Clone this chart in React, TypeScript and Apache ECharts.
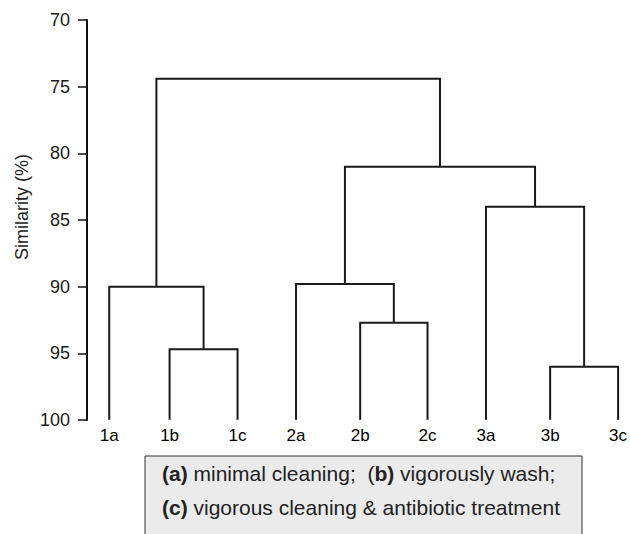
import React, { useEffect, useRef } from "react";
import * as echarts from "echarts";

// Leaves of the dendrogram (left to right) and their positions along the (hidden) x axis
const leafNames = ["1a", "1b", "1c", "2a", "2b", "2c", "3a", "3b", "3c"];
const leafPositions = [0.35, 1.3, 2.37, 3.29, 4.3, 5.36, 6.28, 7.29, 8.36];
const leafSimilarity = 100;

// Merges: node ids 0..8 are leaves, each merge creates node 9 + index
const mergeLeft = [1, 0, 4, 3, 7, 6, 12, 10];
const mergeRight = [2, 9, 5, 11, 8, 13, 14, 15];
const mergeSimilarity = [94.7, 90.0, 92.7, 89.8, 96.0, 84.0, 81.0, 74.4];

const yMin = 70;
const yMax = 100;
const yInterval = 5;
const yAxisTitle = "Similarity (%)";

const FONT = "'Liberation Sans', Arial, Helvetica, sans-serif";

export default function App() {
  const ref = useRef<HTMLDivElement>(null);

  useEffect(() => {
    if (!ref.current) return;
    const chart = echarts.init(ref.current, undefined, { renderer: "svg" });

    const nodeX: number[] = [...leafPositions];
    const nodeH: number[] = leafPositions.map(() => leafSimilarity);
    const links: { coords: number[][] }[] = [];
    mergeSimilarity.forEach((h, i) => {
      const l = mergeLeft[i];
      const r = mergeRight[i];
      const xl = nodeX[l];
      const xr = nodeX[r];
      links.push({
        coords: [
          [xl, nodeH[l]],
          [xl, h],
          [xr, h],
          [xr, nodeH[r]],
        ],
      });
      nodeX.push((xl + xr) / 2);
      nodeH.push(h);
    });

    chart.setOption({
      animation: false,
      backgroundColor: "#ffffff",
      grid: { left: 87, top: 20, width: 540, height: 400 },
      xAxis: { type: "value", min: 0, max: 8.5, show: false },
      yAxis: {
        type: "value",
        inverse: true,
        min: yMin,
        max: yMax,
        interval: yInterval,
        axisLine: { show: true, onZero: false, lineStyle: { color: "#111", width: 2 } },
        axisTick: { show: true, length: 9, lineStyle: { color: "#111", width: 1.5 } },
        splitLine: { show: false },
        axisLabel: { fontSize: 18, color: "#1a1a1a", margin: 17, fontFamily: FONT },
      },
      series: [
        {
          type: "lines",
          coordinateSystem: "cartesian2d",
          polyline: true,
          silent: true,
          data: links,
          lineStyle: { color: "#1a1a1a", width: 2, opacity: 1 },
        },
        {
          type: "scatter",
          silent: true,
          symbol: "circle",
          symbolSize: 1,
          itemStyle: { color: "#ffffff", opacity: 1 },
          data: leafNames.map((n, i) => ({ name: n, value: [leafPositions[i], leafSimilarity] })),
          label: {
            show: true,
            position: "bottom",
            distance: 6,
            formatter: "{b}",
            fontSize: 17,
            color: "#000",
            opacity: 1,
            textBorderWidth: 0,
            fontFamily: FONT,
          },
        },
      ],
      graphic: [
        {
          type: "text",
          x: 22,
          y: 207,
          rotation: Math.PI / 2,
          style: {
            text: yAxisTitle,
            fontSize: 18,
            fill: "#222",
            fontFamily: FONT,
            align: "center",
            verticalAlign: "middle",
          },
        },
        {
          type: "rect",
          shape: { x: 145, y: 456, width: 437, height: 90 },
          style: { fill: "#ebebeb", stroke: "#333", lineWidth: 1 },
        },
        {
          type: "text",
          x: 162,
          y: 473,
          style: {
            text: "{b|(a)} minimal cleaning;  ({b|b)} vigorously wash;",
            rich: { b: { fontWeight: "bold", fontSize: 21, fontFamily: FONT, fill: "#222" } },
            fontSize: 21,
            fill: "#222",
            fontFamily: FONT,
            verticalAlign: "middle",
          },
        },
        {
          type: "text",
          x: 162,
          y: 507,
          style: {
            text: "{b|(c)} vigorous cleaning & antibiotic treatment",
            rich: { b: { fontWeight: "bold", fontSize: 21, fontFamily: FONT, fill: "#222" } },
            fontSize: 21,
            fill: "#222",
            fontFamily: FONT,
            verticalAlign: "middle",
          },
        },
      ],
    });

    return () => chart.dispose();
  }, []);

  return (
    <div
      ref={ref}
      style={{ position: "fixed", left: 0, top: 0, width: 630, height: 534, background: "#fff" }}
    />
  );
}
